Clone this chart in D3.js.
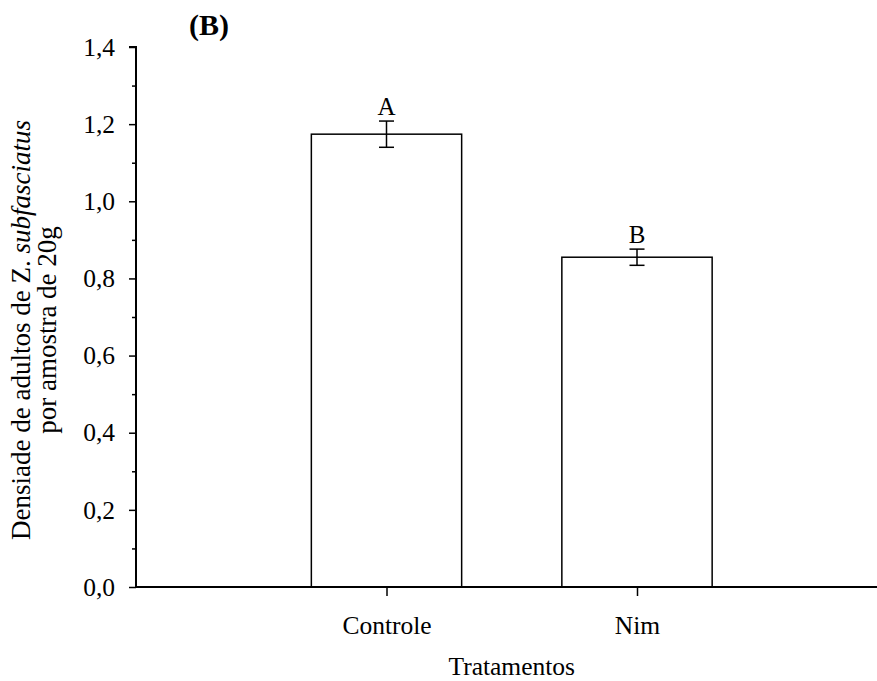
<!DOCTYPE html>
<html>
<head>
<meta charset="utf-8">
<script src="https://cdn.jsdelivr.net/npm/d3@7"></script>
<style>
  html, body { margin: 0; padding: 0; background: #fff; }
  svg { display: block; font-family: "Liberation Serif", "Times New Roman", serif; }
</style>
</head>
<body>
<svg id="chart" width="877" height="681"></svg>
<script>
// Adult density of Z. subfasciatus per 20 g sample, by treatment
const categories = ["Controle", "Nim"];
const means = [1.174, 0.855];
const errors = [0.034, 0.021];
const letters = ["A", "B"];
const yTicks = [0.0, 0.2, 0.4, 0.6, 0.8, 1.0, 1.2, 1.4];
const yMinorTicks = [0.1, 0.3, 0.5, 0.7, 0.9, 1.1, 1.3];

const svg = d3.select("#chart");
const plotLeft = 136, plotBottom = 587, plotTop = 47;

// categories sit at positions 1, 2 on a 0..3 axis
const x = d3.scaleLinear().domain([0, 3]).range([plotLeft, plotLeft + 3 * 250.5]);
const y = d3.scaleLinear().domain([0, 1.4]).range([plotBottom, plotTop]);
const barW = x(0.6) - x(0);
const capW = x(0.06) - x(0);
const fmt = d => d.toFixed(1).replace(".", ",");

// bars
svg.append("g").selectAll("rect").data(means).join("rect")
  .attr("x", (d, i) => x(i + 1) - barW / 2)
  .attr("y", d => y(d))
  .attr("width", barW)
  .attr("height", d => y(0) - y(d))
  .attr("fill", "#fff")
  .attr("stroke", "#000")
  .attr("stroke-width", 1.5);

// error bars
const eb = svg.append("g").attr("stroke", "#000").attr("stroke-width", 1.5);
means.forEach((m, i) => {
  const cx = x(i + 1);
  eb.append("line").attr("x1", cx).attr("x2", cx).attr("y1", y(m - errors[i])).attr("y2", y(m + errors[i]));
  eb.append("line").attr("x1", cx - capW / 2).attr("x2", cx + capW / 2).attr("y1", y(m + errors[i])).attr("y2", y(m + errors[i]));
  eb.append("line").attr("x1", cx - capW / 2).attr("x2", cx + capW / 2).attr("y1", y(m - errors[i])).attr("y2", y(m - errors[i]));
});

// significance letters
svg.append("g").selectAll("text").data(letters).join("text")
  .attr("x", (d, i) => x(i + 1))
  .attr("y", (d, i) => y(means[i] + errors[i]) - 6)
  .attr("text-anchor", "middle")
  .attr("font-size", 25)
  .text(d => d);

// y axis
const yAxis = svg.append("g").attr("transform", `translate(${plotLeft},0)`)
  .call(d3.axisLeft(y).tickValues(yTicks).tickFormat(fmt).tickSize(7).tickPadding(14));
yAxis.select(".domain").attr("stroke-width", 2).attr("d", `M0,${plotBottom}V${plotTop}H-7`);
yAxis.selectAll(".tick line").attr("stroke-width", 1.5);
yAxis.selectAll(".tick text").attr("font-size", 25.5).attr("font-family", "Liberation Serif");
svg.append("g").attr("transform", `translate(${plotLeft},0)`)
  .call(d3.axisLeft(y).tickValues(yMinorTicks).tickFormat("").tickSize(4))
  .call(g => g.select(".domain").remove())
  .selectAll(".tick line").attr("stroke-width", 1.5);

// x axis
const xAxis = svg.append("g").attr("transform", `translate(0,${plotBottom})`)
  .call(d3.axisBottom(x).tickValues([1, 2]).tickFormat((d) => categories[d - 1]).tickSize(9).tickPadding(20));
xAxis.select(".domain").attr("stroke-width", 2).attr("d", `M${plotLeft},0H${x(3)}`);
xAxis.selectAll(".tick line").attr("stroke-width", 1.5);
xAxis.selectAll(".tick text").attr("font-size", 25.5).attr("font-family", "Liberation Serif");

// axis titles
svg.append("text")
  .attr("x", (x(0) + x(3)) / 2).attr("y", 675)
  .attr("text-anchor", "middle").attr("font-size", 25.5)
  .text("Tratamentos");

const yTitle = svg.append("text")
  .attr("transform", "translate(30,330) rotate(-90)")
  .attr("text-anchor", "middle").attr("font-size", 27);
yTitle.append("tspan").attr("x", 0).attr("y", 0).text("Densiade de adultos de ");
yTitle.append("tspan").text("Z. ");
yTitle.append("tspan").attr("font-style", "italic").text("subfasciatus");
yTitle.append("tspan").attr("x", 0).attr("dy", 26).text("por amostra de 20g");

// panel label
svg.append("text")
  .attr("x", 189).attr("y", 35)
  .attr("font-size", 30).attr("font-weight", "bold")
  .text("(B)");
</script>
</body>
</html>
